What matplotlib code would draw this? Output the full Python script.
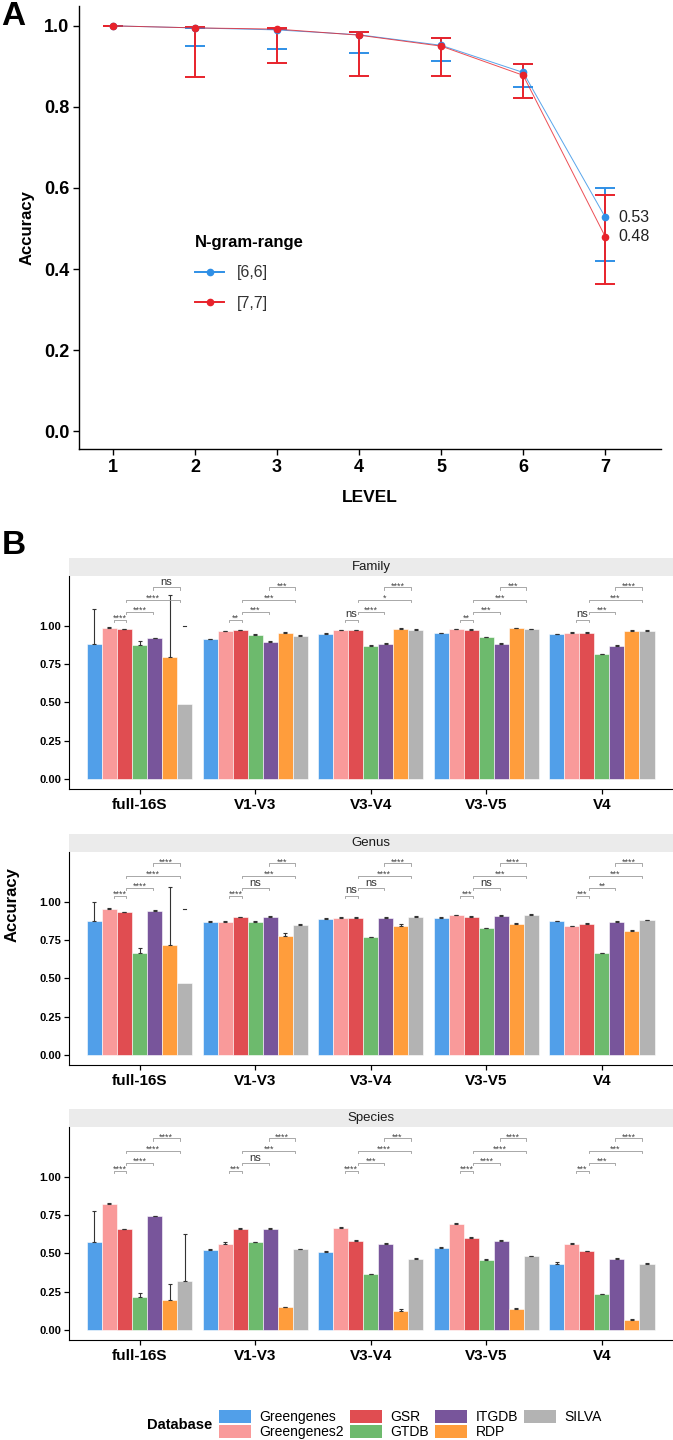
import numpy as np
import matplotlib.pyplot as plt
from matplotlib.lines import Line2D
from matplotlib.patches import Patch, Rectangle

plt.rcParams['font.family'] = ['Liberation Sans', 'DejaVu Sans']

# ---- panel A data ----
levels = [1, 2, 3, 4, 5, 6, 7]
acc_66 = [1.000, 0.995, 0.990, 0.978, 0.952, 0.885, 0.528]
low_66 = [1.000, 0.950, 0.943, 0.932, 0.913, 0.850, 0.420]
high_66 = [1.000, 0.995, 0.993, 0.985, 0.970, 0.905, 0.600]
acc_77 = [1.000, 0.995, 0.992, 0.977, 0.950, 0.878, 0.480]
low_77 = [1.000, 0.875, 0.908, 0.877, 0.877, 0.822, 0.363]
high_77 = [1.000, 0.997, 0.995, 0.985, 0.970, 0.907, 0.583]

# ---- panel B data ----
regions = ['full-16S', 'V1-V3', 'V3-V4', 'V3-V5', 'V4']
databases = ['Greengenes', 'Greengenes2', 'GSR', 'GTDB', 'ITGDB', 'RDP', 'SILVA']
db_colors = ['#519FE9', '#F99A9A', '#E04D51', '#6DBA6D', '#78559B', '#FF9D3C', '#B3B3B3']

family_acc = [[0.878, 0.987, 0.978, 0.876, 0.919, 0.795, 0.489],
              [0.913, 0.965, 0.972, 0.941, 0.895, 0.950, 0.934],
              [0.948, 0.972, 0.972, 0.869, 0.884, 0.980, 0.974],
              [0.952, 0.976, 0.974, 0.926, 0.884, 0.983, 0.978],
              [0.945, 0.956, 0.956, 0.814, 0.869, 0.969, 0.967]]
family_err = [[0.231, 0.003, 0.003, 0.024, 0.003, 0.408, 0.0],
              [0.003, 0.003, 0.003, 0.003, 0.003, 0.010, 0.003],
              [0.003, 0.003, 0.003, 0.003, 0.003, 0.003, 0.003],
              [0.003, 0.003, 0.003, 0.003, 0.003, 0.003, 0.003],
              [0.003, 0.003, 0.003, 0.003, 0.003, 0.003, 0.003]]
genus_acc = [[0.876, 0.954, 0.933, 0.665, 0.941, 0.717, 0.467],
             [0.870, 0.870, 0.898, 0.870, 0.900, 0.774, 0.848],
             [0.891, 0.896, 0.896, 0.770, 0.896, 0.843, 0.904],
             [0.896, 0.911, 0.904, 0.826, 0.909, 0.854, 0.917],
             [0.872, 0.839, 0.854, 0.663, 0.870, 0.809, 0.880]]
genus_err = [[0.122, 0.003, 0.003, 0.031, 0.003, 0.379, 0.0],
             [0.003, 0.003, 0.004, 0.003, 0.005, 0.022, 0.004],
             [0.003, 0.003, 0.003, 0.003, 0.003, 0.009, 0.003],
             [0.003, 0.003, 0.003, 0.003, 0.004, 0.008, 0.003],
             [0.003, 0.003, 0.005, 0.003, 0.004, 0.007, 0.003]]
species_acc = [[0.574, 0.823, 0.659, 0.214, 0.742, 0.194, 0.319],
               [0.520, 0.563, 0.659, 0.574, 0.659, 0.148, 0.528],
               [0.511, 0.668, 0.583, 0.365, 0.563, 0.124, 0.465],
               [0.535, 0.694, 0.600, 0.459, 0.583, 0.138, 0.480],
               [0.432, 0.561, 0.515, 0.234, 0.465, 0.068, 0.432]]
species_err = [[0.205, 0.003, 0.003, 0.026, 0.003, 0.105, 0.308],
               [0.008, 0.010, 0.004, 0.003, 0.004, 0.005, 0.003],
               [0.006, 0.004, 0.005, 0.003, 0.005, 0.014, 0.003],
               [0.005, 0.004, 0.004, 0.006, 0.004, 0.008, 0.003],
               [0.012, 0.005, 0.004, 0.004, 0.006, 0.004, 0.003]]
# SILVA full-16S upper cap drawn without its stem
silva_cap = [1.000, 0.952, None]

family_sig = [['****', '****', '****', 'ns'], ['**', '***', '***', '***'],
              ['ns', '****', '*', '****'], ['**', '***', '***', '***'],
              ['ns', '***', '***', '****']]
genus_sig = [['****', '****', '****', '****'], ['****', 'ns', '***', '***'],
             ['ns', 'ns', '****', '****'], ['***', 'ns', '***', '****'],
             ['***', '**', '***', '****']]
species_sig = [['****', '****', '****', '****'], ['***', 'ns', '***', '****'],
               ['****', '***', '****', '***'], ['****', '****', '****', '****'],
               ['***', '***', '***', '****']]

W, H = 673, 1440
fig = plt.figure(figsize=(W / 100, H / 100), dpi=100)

def box(l, t, r, b):
    return [l / W, 1 - b / H, (r - l) / W, (b - t) / H]

# ================= panel A =================
blue, red = '#2F8FE6', '#E8232B'
ax = fig.add_axes(box(79, 6, 661, 449))
for acc, lo, hi, c in [(acc_66, low_66, high_66, blue), (acc_77, low_77, high_77, red)]:
    acc = np.array(acc)
    yerr = [acc - np.array(lo), np.array(hi) - acc]
    ax.errorbar(levels, acc, yerr=yerr, fmt='none', ecolor=c, elinewidth=1.4,
                capsize=7, capthick=1.4)
for acc, c in [(acc_66, blue), (acc_77, red)]:
    ax.plot(levels, acc, color=c, lw=0.7, alpha=0.8)
    ax.plot(levels, acc, 'o', color=c, ms=4.5)
ax.text(7.16, acc_66[-1], '%.2f' % acc_66[-1], fontsize=11.5, color='#222', va='center')
ax.text(7.16, acc_77[-1], '%.2f' % acc_77[-1], fontsize=11.5, color='#222', va='center')
ax.set_xlim(0.585, 7.68)
ax.set_ylim(-0.044, 1.049)
ax.set_xticks(levels)
ax.set_yticks([0, 0.2, 0.4, 0.6, 0.8, 1.0])
ax.set_yticklabels(['0.0', '0.2', '0.4', '0.6', '0.8', '1.0'])
for s in ['top', 'right']:
    ax.spines[s].set_visible(False)
for s in ['left', 'bottom']:
    ax.spines[s].set_linewidth(1.0)
ax.tick_params(length=4, width=1, labelsize=13, pad=3)
for t in ax.get_xticklabels() + ax.get_yticklabels():
    t.set_fontweight('bold')
ax.set_xlabel('LEVEL', fontsize=12.5, fontweight='bold')
ax.xaxis.set_label_coords(0.5, -0.093)
ax.set_ylabel('Accuracy', fontsize=12, fontweight='bold')
ax.yaxis.set_label_coords(-0.077, 0.5)
handles = [Line2D([], [], color=blue, marker='o', ms=4.5, lw=1.4),
           Line2D([], [], color=red, marker='o', ms=4.5, lw=1.4)]
leg = ax.legend(handles, ['[6,6]', '[7,7]'], title='N-gram-range', loc='upper left',
                bbox_to_anchor=(0.175, 0.515), frameon=False, fontsize=11.5,
                title_fontproperties={'weight': 'bold', 'size': 12},
                alignment='left', handlelength=1.8, labelspacing=0.95)
for t in leg.get_texts():
    t.set_color('#333')

fig.text(0.002, 0.999, 'A', fontsize=24, fontweight='bold', va='top')
fig.text(0.002, 1 - 530 / H, 'B', fontsize=24, fontweight='bold', va='top')

# ================= panel B =================
bw = 0.13
offs = (np.arange(7) - 3) * bw
br_span = [(-1.73, -0.87), (-0.87, 0.9), (-0.87, 2.67), (0.9, 2.67)]
br_y = [1.04, 1.09, 1.17, 1.25]
facets = [('Family', family_acc, family_err, family_sig, 576, 789),
          ('Genus', genus_acc, genus_err, genus_sig, 852, 1065),
          ('Species', species_acc, species_err, species_sig, 1127, 1340)]
for fi, (name, accs, errs, sigs, top, bot) in enumerate(facets):
    ax = fig.add_axes(box(69, top, 673, bot))
    for g in range(len(regions)):
        x = g + offs
        ax.bar(x, accs[g], width=bw, color=db_colors, edgecolor='white', linewidth=0.4)
        e = np.array(errs[g])
        m = e > 0
        ax.errorbar(x[m], np.array(accs[g])[m], yerr=[np.zeros(m.sum()), e[m]], fmt='none',
                    ecolor='#333333', elinewidth=0.8, capsize=1.6, capthick=0.8)
        for k, (a, b) in enumerate(br_span):
            x0, x1 = g + a * bw, g + b * bw
            y = br_y[k]
            ax.plot([x0, x0, x1, x1], [y - 0.015, y, y, y - 0.015], color='#9A9A9A', lw=0.6)
            lab = sigs[g][k]
            if lab == 'ns':
                ax.text((x0 + x1) / 2, y + 0.003, lab, ha='center', va='bottom', fontsize=8, color='#333')
            else:
                ax.text((x0 + x1) / 2, y - 0.02, lab, ha='center', va='bottom', fontsize=6.5, color='#444')
    if silva_cap[fi] is not None:
        ax.plot([offs[6] - bw * 0.12, offs[6] + bw * 0.12], [silva_cap[fi]] * 2, color='#333', lw=0.8)
    ax.set_xlim(-0.61, 4.615)
    ax.set_ylim(-0.065, 1.325)
    ax.set_xticks(range(len(regions)))
    ax.set_xticklabels(regions)
    ax.set_yticks([0, 0.25, 0.5, 0.75, 1.0])
    ax.set_yticklabels(['0.00', '0.25', '0.50', '0.75', '1.00'])
    for s in ['top', 'right']:
        ax.spines[s].set_visible(False)
    ax.tick_params(length=3.5, width=0.9, pad=2)
    ax.tick_params(axis='y', labelsize=8)
    ax.tick_params(axis='x', labelsize=11, pad=3)
    for t in ax.get_xticklabels() + ax.get_yticklabels():
        t.set_fontweight('bold')
    strip_h = 18 / (bot - top)
    ax.add_patch(Rectangle((0, 1), 1, strip_h, transform=ax.transAxes, clip_on=False,
                           facecolor='#EBEBEB', edgecolor='none'))
    ax.text(0.5, 1 + strip_h / 2, name, transform=ax.transAxes, ha='center', va='center',
            fontsize=9.5, color='#1A1A1A')

fig.text(12 / W, 1 - 905 / H, 'Accuracy', rotation=90, fontsize=12, fontweight='bold',
         ha='center', va='center')

fig.text(147 / W, 1 - 1425 / H, 'Database', fontsize=10.5, fontweight='bold', va='center')
patches = [Patch(facecolor=c, edgecolor='none') for c in db_colors]
fig.legend(patches, databases, ncol=4, loc='upper left', bbox_to_anchor=(219 / W, 1 - 1410 / H),
           frameon=False, fontsize=10, handlelength=2.3, handleheight=1.05, labelspacing=0.05,
           columnspacing=0.45, handletextpad=0.6, borderaxespad=0, borderpad=0)

fig.savefig('out.png', dpi=100)
